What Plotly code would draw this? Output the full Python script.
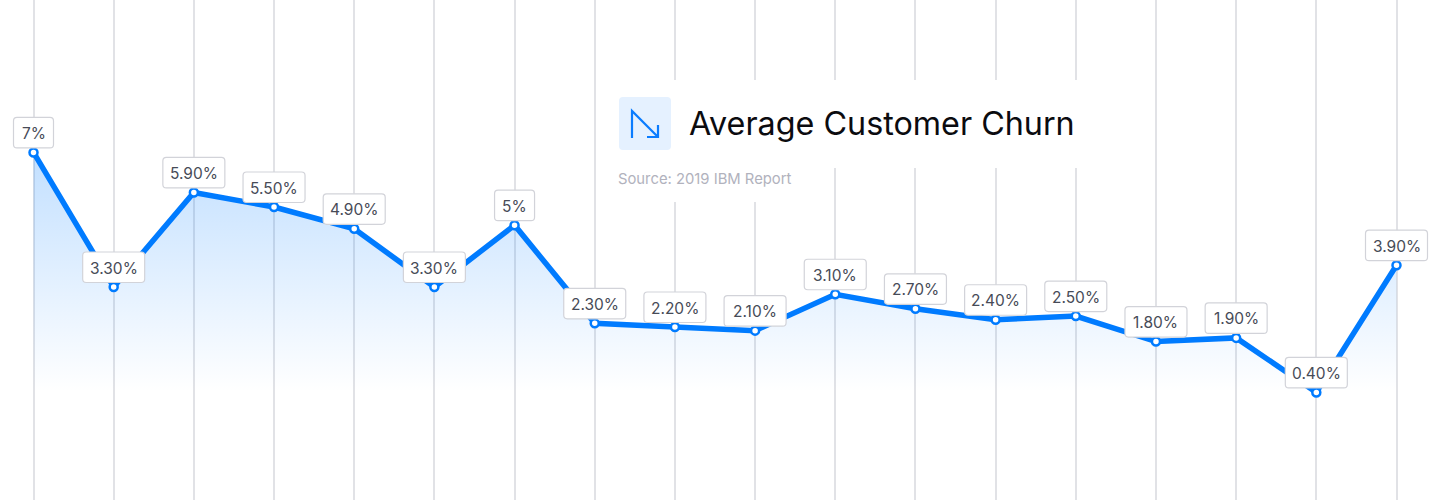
import plotly.graph_objects as go

labels = ["7%","3.30%","5.90%","5.50%","4.90%","3.30%","5%","2.30%","2.20%","2.10%","3.10%","2.70%","2.40%","2.50%","1.80%","1.90%","0.40%","3.90%"]
values = [7,3.3,5.9,5.5,4.9,3.3,5,2.3,2.2,2.1,3.1,2.7,2.4,2.5,1.8,1.9,0.4,3.9]
index = list(range(len(values)))
title = "Average Customer Churn"
source = "Source: 2019 IBM Report"

W, H = 1443, 500
BLUE = "#007bff"
FONT = "Inter"

def px(x): return x / W
def py(y): return 1 - y / H

fig = go.Figure()
fig.add_trace(go.Scatter(
    x=index, y=values, mode="lines+markers", fill="tozeroy",
    fillgradient=dict(type="vertical",
                      colorscale=[[0, "rgba(0,123,255,0)"], [1, "rgba(0,123,255,0.24)"]],
                      start=0.4, stop=7),
    line=dict(color=BLUE, width=5.5),
    marker=dict(size=8, color="white", line=dict(color=BLUE, width=2.5)),
    hoverinfo="skip", cliponaxis=False,
))

shapes = []
annos = []
# white panels interrupting the grid
shapes.append(dict(type="rect", xref="paper", yref="paper", x0=px(606), x1=px(1115), y0=py(168), y1=py(80),
                   fillcolor="white", line_width=0, layer="above"))
shapes.append(dict(type="rect", xref="paper", yref="paper", x0=px(606), x1=px(800), y0=py(202), y1=py(168),
                   fillcolor="white", line_width=0, layer="above"))

def rr(x0, y0, x1, y1, r):
    return (f"M{x0+r},{y0} L{x1-r},{y0} Q{x1},{y0} {x1},{y0+r} L{x1},{y1-r} Q{x1},{y1} {x1-r},{y1} "
            f"L{x0+r},{y1} Q{x0},{y1} {x0},{y1-r} L{x0},{y0+r} Q{x0},{y0} {x0+r},{y0} Z")

# labels
for i, (v, t) in enumerate(zip(values, labels)):
    hw = 20 if len(t) < 4 else 31
    shapes.append(dict(type="path", xref="x", yref="y", xsizemode="pixel", ysizemode="pixel",
                       xanchor=i, yanchor=v, path=rr(-hw, 4.5, hw, 35, 3.5),
                       fillcolor="white", line=dict(color="#d2d3d9", width=1.2), layer="above"))
    annos.append(dict(x=i, y=v, xref="x", yref="y", text=t, showarrow=False, xanchor="center", yanchor="middle",
                      yshift=19, font=dict(family=FONT, size=15.5, color="#474b57")))

# icon
shapes.append(dict(type="path", xref="paper", yref="paper", fillcolor="#e5f1ff", line_width=0, layer="above",
    path=" ".join([
        f"M{px(623)},{py(97)} L{px(667)},{py(97)} Q{px(671)},{py(97)} {px(671)},{py(101)} L{px(671)},{py(146)}",
        f"Q{px(671)},{py(150)} {px(667)},{py(150)} L{px(623)},{py(150)} Q{px(619)},{py(150)} {px(619)},{py(146)}",
        f"L{px(619)},{py(101)} Q{px(619)},{py(97)} {px(623)},{py(97)} Z"])))
shapes.append(dict(type="path", xref="paper", yref="paper", line=dict(color="#0a7cff", width=2.2), layer="above",
    path=f"M{px(632)},{py(138)} L{px(632)},{py(111)} L{px(658)},{py(137)} M{px(647)},{py(137)} L{px(658)},{py(137)} L{px(658)},{py(125)}"))

annos.append(dict(xref="paper", yref="paper", x=px(686.5), y=py(123), text=title, showarrow=False, xanchor="left", yanchor="middle",
                  font=dict(family=FONT, size=32.3, color="#0b0b0f")))
annos.append(dict(xref="paper", yref="paper", x=px(616), y=py(178.5), text=source, showarrow=False, xanchor="left", yanchor="middle",
                  font=dict(family=FONT, size=14.8, color="#b1b2bd")))

x_unit = (1396.5 - 33.5) / 17
y_unit = 240 / 6.6
y0_px = 407
fig.update_layout(
    width=W, height=H, margin=dict(l=0, r=0, t=0, b=0), autosize=False,
    paper_bgcolor="white", plot_bgcolor="white", showlegend=False,
    xaxis=dict(range=[-33.5 / x_unit, (W - 33.5) / x_unit], tickvals=index, showticklabels=False, ticks="",
               showgrid=True, gridcolor="#e1e2e6", gridwidth=1.5, zeroline=False, showline=False),
    yaxis=dict(range=[(y0_px - H) / y_unit, y0_px / y_unit], showticklabels=False, ticks="",
               showgrid=False, zeroline=False, showline=False),
    shapes=shapes, annotations=annos,
)
fig.write_html("out.html", post_script="document.body.style.margin='0';", config={"displayModeBar": False})
